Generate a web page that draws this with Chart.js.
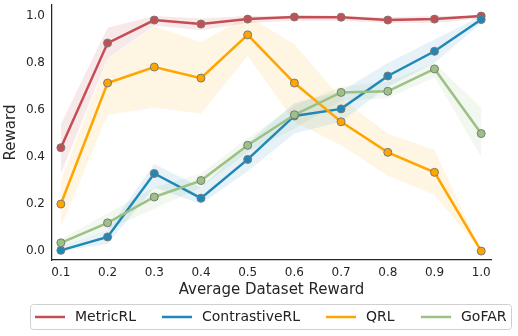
<!DOCTYPE html>
<html>
<head>
<meta charset="utf-8">
<script src="https://cdn.jsdelivr.net/npm/chart.js@4.4.1/dist/chart.umd.min.js"></script>
<style>
  body { margin: 0; background: #fff; }
  #wrap { width: 518px; height: 336px; position: relative; }
</style>
</head>
<body>
<div id="wrap"><canvas id="chart"></canvas></div>
<script>
// x positions (average dataset reward)
const datasetReward = [0.1, 0.2, 0.3, 0.4, 0.5, 0.6, 0.7, 0.8, 0.9, 1.0];
const yTicks = [0.0, 0.2, 0.4, 0.6, 0.8, 1.0];

// mean reward per method
const metricRL = [0.44, 0.885, 0.983, 0.966, 0.987, 0.996, 0.995, 0.983, 0.987, 1.0];
const contrastiveRL = [0.003, 0.06, 0.33, 0.225, 0.39, 0.575, 0.605, 0.745, 0.85, 0.985];
const qrl = [0.2, 0.715, 0.783, 0.736, 0.92, 0.715, 0.55, 0.42, 0.335, 0.0];
const gofar = [0.035, 0.12, 0.23, 0.3, 0.45, 0.58, 0.675, 0.68, 0.775, 0.5];

// shaded band bounds
const metricRLLow = [0.33, 0.82, 0.96, 0.94, 0.97, 0.98, 0.98, 0.97, 0.97, 0.99];
const metricRLHigh = [0.54, 0.95, 1.0, 0.99, 1.0, 1.0, 1.0, 0.995, 1.0, 1.0];
const contrastiveLow = [0.0, 0.03, 0.27, 0.2, 0.34, 0.5, 0.55, 0.7, 0.8, 0.97];
const contrastiveHigh = [0.02, 0.09, 0.37, 0.27, 0.46, 0.63, 0.68, 0.8, 0.9, 1.0];
const qrlLow = [0.1, 0.58, 0.61, 0.585, 0.83, 0.55, 0.45, 0.32, 0.24, 0.0];
const qrlHigh = [0.3, 0.82, 0.955, 0.89, 1.0, 0.88, 0.65, 0.5, 0.43, 0.0];
const gofarLow = [0.02, 0.09, 0.18, 0.27, 0.42, 0.52, 0.64, 0.65, 0.74, 0.4];
const gofarHigh = [0.05, 0.16, 0.27, 0.33, 0.48, 0.62, 0.7, 0.72, 0.8, 0.61];

const pts = (arr) => arr.map((v, i) => ({ x: datasetReward[i], y: v }));

const methods = [
  { label: "MetricRL", data: metricRL, low: metricRLLow, high: metricRLHigh, color: "#c44e52", band: "rgba(196, 78, 82, 0.13)", order: 4 },
  { label: "ContrastiveRL", data: contrastiveRL, low: contrastiveLow, high: contrastiveHigh, color: "#1f88b6", band: "rgba(31, 136, 182, 0.11)", order: 3 },
  { label: "QRL", data: qrl, low: qrlLow, high: qrlHigh, color: "#ffa500", band: "rgba(255, 165, 0, 0.11)", order: 2 },
  { label: "GoFAR", data: gofar, low: gofarLow, high: gofarHigh, color: "#9cc184", band: "rgba(156, 193, 132, 0.13)", order: 1 },
];

// build datasets: band upper, band lower (filled to upper), then the line
const datasets = [];
methods.forEach((m) => {
  const upperIdx = datasets.length;
  datasets.push({
    label: m.label + " high", data: pts(m.high), isBand: true,
    borderWidth: 0, pointRadius: 0, fill: false, order: 10,
  });
  datasets.push({
    label: m.label + " low", data: pts(m.low), isBand: true,
    borderWidth: 0, pointRadius: 0, fill: upperIdx, backgroundColor: m.band, order: 10,
  });
});
methods.forEach((m) => {
  datasets.push({
    label: m.label, data: pts(m.data),
    borderColor: m.color, backgroundColor: m.color, borderWidth: 2.5,
    pointRadius: 4, pointBorderColor: "#7a7a7a", pointBorderWidth: 1,
    pointBackgroundColor: m.color, fill: false, tension: 0, order: m.order,
  });
});

// legend drawn in a framed box below the axes
const boxLegend = {
  id: "boxLegend",
  afterDraw(chart) {
    const ctx = chart.ctx;
    const items = chart.data.datasets.filter((d) => !d.isBand);
    const starts = [35, 162, 326, 421];
    const y = 317;
    ctx.save();
    ctx.strokeStyle = "#d0d0d0";
    ctx.lineWidth = 1;
    ctx.beginPath();
    ctx.roundRect(30.5, 304.5, 481, 25, 3);
    ctx.stroke();
    ctx.font = "14px 'DejaVu Sans'";
    ctx.textBaseline = "middle";
    ctx.fillStyle = "#222";
    items.forEach((d, i) => {
      ctx.strokeStyle = d.borderColor;
      ctx.lineWidth = 2.5;
      ctx.beginPath();
      ctx.moveTo(starts[i], y);
      ctx.lineTo(starts[i] + 30, y);
      ctx.stroke();
      ctx.fillText(d.label, starts[i] + 40, y);
    });
    ctx.restore();
  },
};

new Chart(document.getElementById("chart"), {
  type: "line",
  data: { datasets: datasets },
  plugins: [boxLegend],
  options: {
    responsive: true,
    maintainAspectRatio: false,
    animation: false,
    layout: { padding: { left: 0, right: 27, top: 5, bottom: 38 } },
    plugins: { legend: { display: false }, tooltip: { enabled: false } },
    scales: {
      x: {
        type: "linear", min: 0.081, max: 1.021,
        afterBuildTicks: (scale) => { scale.ticks = datasetReward.map((v) => ({ value: v })); },
        afterFit: (scale) => { scale.height = 38; scale.paddingLeft = 0; scale.paddingRight = 0; },
        grid: { display: false, drawTicks: false },
        border: { display: true, color: "#262626", width: 1.25 },
        ticks: {
          padding: 6, color: "#262626", font: { family: "DejaVu Sans", size: 12 },
          maxRotation: 0, autoSkip: false,
          callback: (v) => Number(v).toFixed(1),
        },
        title: {
          display: true, text: "Average Dataset Reward", color: "#262626",
          font: { family: "DejaVu Sans", size: 15, lineHeight: 1 },
          padding: { top: 0, bottom: 0 },
        },
      },
      y: {
        min: -0.038, max: 1.047,
        afterBuildTicks: (scale) => { scale.ticks = yTicks.map((v) => ({ value: v })); },
        afterFit: (scale) => { scale.width = 52; scale.paddingTop = 0; scale.paddingBottom = 0; },
        grid: { display: false, drawTicks: false },
        border: { display: true, color: "#262626", width: 1.25 },
        ticks: {
          padding: 7, color: "#262626", font: { family: "DejaVu Sans", size: 12 },
          callback: (v) => Number(v).toFixed(1),
        },
        title: {
          display: true, text: "Reward", color: "#262626",
          font: { family: "DejaVu Sans", size: 15, lineHeight: 1 },
          padding: { top: 4, bottom: 0 },
        },
      },
    },
  },
});
</script>
</body>
</html>
